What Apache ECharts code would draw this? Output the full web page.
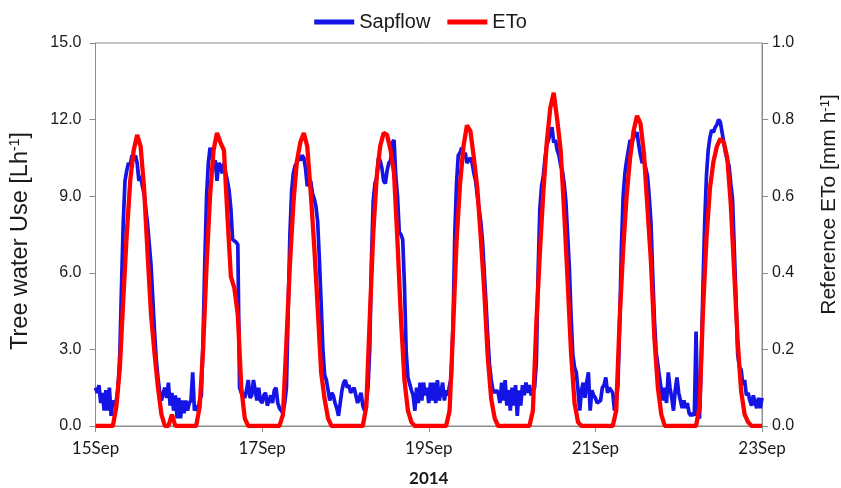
<!DOCTYPE html>
<html>
<head>
<meta charset="utf-8">
<script src="https://cdn.jsdelivr.net/npm/echarts@6/dist/echarts.min.js"></script>
<style>html,body{margin:0;padding:0;background:#fff}#c{width:841px;height:488px}</style>
</head>
<body>
<div id="c"></div>
<script>
// x tick labels (every 2 days, x in hours from 15 Sep 00:00)
const tickLabels = ['15Sep', '17Sep', '19Sep', '21Sep', '23Sep'];

// ETo [mm h-1], hourly, one array per day (h0..h23)
const eto15 = [0,0,0,0,0,0, 0.05,0.15,0.33,0.50,0.64,0.72, 0.76,0.73,0.62,0.45,0.29,0.19, 0.10,0.03,0,0,0.03,0];
const eto16 = [0,0,0,0,0,0, 0.05,0.20,0.42,0.60,0.72,0.765, 0.74,0.72,0.55,0.39,0.36,0.29, 0.10,0.02,0,0,0,0];
const eto17 = [0,0,0,0,0,0, 0.03,0.22,0.42,0.58,0.69,0.74, 0.765,0.73,0.61,0.47,0.31,0.14, 0.07,0.02,0,0,0,0];
const eto18 = [0,0,0,0,0,0, 0.05,0.28,0.50,0.65,0.73,0.765, 0.76,0.72,0.66,0.48,0.28,0.12, 0.04,0.01,0,0,0,0];
const eto19 = [0,0,0,0,0,0, 0.04,0.25,0.48,0.63,0.73,0.785, 0.77,0.70,0.62,0.49,0.35,0.18, 0.07,0.02,0,0,0,0];
const eto20 = [0,0,0,0,0,0, 0.04,0.27,0.45,0.61,0.74,0.83, 0.87,0.80,0.72,0.56,0.38,0.19, 0.06,0.01,0,0,0,0];
const eto21 = [0,0,0,0,0,0, 0.04,0.28,0.46,0.60,0.70,0.77, 0.81,0.79,0.71,0.57,0.43,0.23, 0.10,0.03,0,0,0,0];
const eto22 = [0,0,0,0,0,0, 0.05,0.30,0.49,0.62,0.69,0.73, 0.75,0.74,0.70,0.58,0.40,0.22, 0.09,0.03,0.01,0,0,0];
const etoEnd = 0;

// Sapflow [L h-1], half-hourly, one array per day (h0, h0.5, ... h23.5)
const sap15 = [1.5,1.3,1.6,0.9,1.3,0.6,1.4,0.6,1.5,0.4,1.0,0.8,
               1.0,1.5,2.8,5.5,8.0,9.6,10.0,10.3,10.2,10.6,10.4,10.6,
               10.3,9.6,9.8,9.4,9.1,8.5,7.9,7.1,6.3,5.0,3.7,2.6,
               1.9,1.3,1.0,1.3,1.5,1.1,1.7,0.8,1.3,0.6,1.2,0.3];
const sap16 = [1.1,0.3,1.0,0.5,1.0,0.6,0.9,1.0,2.1,0.6,0.8,0.6,
               1.0,1.2,3.5,6.5,9.0,10.3,10.9,10.9,10.3,10.4,9.6,10.3,
               10.2,9.9,10.3,9.9,9.6,9.2,8.5,7.3,7.3,7.2,7.1,1.5,
               1.3,1.2,1.1,1.4,1.8,1.1,1.2,1.8,1.4,1.0,1.5,1.0];
const sap17 = [0.9,1.2,1.3,0.8,1.0,1.2,0.9,1.4,1.5,0.9,0.7,0.6,
               0.5,0.9,1.5,4.5,7.5,9.2,9.9,10.2,10.3,10.5,10.4,10.6,
               10.5,10.1,9.4,9.5,9.6,9.1,8.9,8.6,8.0,6.5,4.8,3.0,
               2.0,1.8,1.4,1.0,1.3,1.2,0.9,0.7,0.4,0.9,1.4,1.7];
const sap18 = [1.8,1.5,1.6,1.3,1.4,1.5,1.2,0.9,1.1,1.3,0.8,0.6,
               0.9,1.5,3.0,6.5,8.8,9.5,9.7,10.5,10.4,10.1,9.6,9.5,
               10.0,10.3,10.4,11.1,11.2,9.8,9.0,7.6,7.5,7.3,5.5,2.9,
               1.9,1.9,1.4,1.2,0.6,1.5,0.9,1.7,1.0,1.7,1.2,1.5];
const sap19 = [0.9,1.7,1.0,1.7,0.9,1.8,1.0,1.3,1.7,1.0,1.4,1.2,
               1.6,1.9,4.0,7.5,9.5,10.6,10.7,10.9,10.6,10.7,10.3,10.4,
               10.5,10.3,9.9,9.6,9.0,8.5,8.0,7.2,6.0,4.8,3.5,2.4,
               1.8,1.4,1.3,1.4,1.3,0.9,1.7,1.0,1.8,0.8,1.4,0.6];
const sap20 = [1.5,0.8,1.6,0.4,1.4,0.8,1.6,1.2,1.7,1.3,1.6,1.2,
               1.4,1.5,2.5,6.0,8.5,9.4,9.8,10.5,11.0,11.2,11.5,11.7,
               11.1,11.2,10.8,10.6,10.2,10.0,9.5,8.8,7.5,6.2,4.3,2.8,
               2.3,2.1,1.4,0.6,1.4,1.7,1.1,1.7,2.1,0.6,1.4,1.2];
const sap21 = [1.1,0.9,0.9,1.0,1.5,1.6,1.9,1.3,1.5,1.4,1.3,0.6,
               1.0,1.6,4.0,7.0,9.0,9.9,10.4,10.8,11.2,11.1,11.3,11.4,
               11.5,11.0,10.6,10.3,10.4,10.4,9.8,9.0,8.0,6.0,4.2,2.9,
               2.4,1.9,1.4,1.0,1.5,0.9,2.1,1.5,1.1,0.6,1.4,1.9];
const sap22 = [1.3,1.0,0.7,1.0,0.7,0.9,0.5,0.4,0.5,0.4,3.7,0.4,
               0.3,2.5,5.5,8.0,9.8,10.8,11.3,11.6,11.5,11.7,11.8,12.0,
               11.9,11.5,11.1,10.7,10.4,10.2,9.5,8.9,7.0,5.0,2.8,2.3,
               2.2,1.6,1.8,1.2,1.3,1.0,0.8,1.2,0.9,0.7,1.1,0.7];
const sapEnd = 1.1;

const etoAll = [].concat(eto15, eto16, eto17, eto18, eto19, eto20, eto21, eto22, [etoEnd]);
const sapAll = [].concat(sap15, sap16, sap17, sap18, sap19, sap20, sap21, sap22, [sapEnd]);
const etoData = etoAll.map((v, i) => [i, v]);
const sapData = sapAll.map((v, i) => [i * 0.5, v]);

const gray = '#8c8c8c';
const txt = '#1a1a1a';
const font = "'Liberation Sans', Arial, sans-serif";
const font2 = "Lato, 'Liberation Sans', sans-serif";

const chart = echarts.init(document.getElementById('c'), null, {renderer: 'canvas'});
chart.setOption({
  animation: false,
  backgroundColor: '#fff',
  textStyle: {fontFamily: font},
  legend: {
    top: 7, left: 'center', icon: 'rect', itemWidth: 40, itemHeight: 5, itemGap: 17,
    textStyle: {fontSize: 20, color: txt, fontFamily: font},
    data: ['Sapflow', 'ETo']
  },
  grid: {left: 95.5, right: 79, top: 43, bottom: 62, show: true, borderColor: gray, borderWidth: 1,
         containLabel: false, outerBoundsMode: 'none'},
  xAxis: {
    type: 'value', min: 0, max: 192, interval: 48,
    axisLine: {lineStyle: {color: gray, width: 1}},
    axisTick: {length: 6, lineStyle: {color: gray}},
    splitLine: {show: false},
    axisLabel: {formatter: v => tickLabels[Math.round(v / 48)], fontSize: 17, color: txt, margin: 14, fontFamily: font2},
    name: '2014', nameLocation: 'middle', nameGap: 44,
    nameTextStyle: {fontWeight: 'bold', fontSize: 17, color: txt, fontFamily: font2}
  },
  yAxis: [
    {
      type: 'value', min: 0, max: 15, interval: 3, position: 'left',
      axisLine: {show: true, lineStyle: {color: gray}},
      axisTick: {show: true, length: 6, lineStyle: {color: gray}},
      splitLine: {show: false},
      axisLabel: {formatter: v => v.toFixed(1), fontSize: 16, color: txt, margin: 14},
      name: 'Tree water Use [Lh{s|-1}]', nameLocation: 'middle', nameRotate: 90, nameGap: 63,
      nameTextStyle: {fontSize: 23.5, color: txt, padding: [0, 13, 0, 0], rich: {s: {fontSize: 14, verticalAlign: 'top', color: txt}}}
    },
    {
      type: 'value', min: 0, max: 1, interval: 0.2, position: 'right',
      axisLine: {show: true, lineStyle: {color: gray}},
      axisTick: {show: true, length: 6, lineStyle: {color: gray}},
      splitLine: {show: false},
      axisLabel: {formatter: v => v.toFixed(1), fontSize: 16, color: txt, margin: 10},
      name: 'Reference ETo [mm h{s|-1}]', nameLocation: 'middle', nameRotate: 90, nameGap: 57,
      nameTextStyle: {fontSize: 21, color: txt, padding: [0, 0, 0, 60], rich: {s: {fontSize: 13, verticalAlign: 'top', color: txt}}}
    }
  ],
  series: [
    {name: 'Sapflow', type: 'line', yAxisIndex: 0, data: sapData, showSymbol: false, symbol: 'none',
     lineStyle: {color: '#1414e6', width: 3.7}, itemStyle: {color: '#1414e6'}},
    {name: 'ETo', type: 'line', yAxisIndex: 1, data: etoData, showSymbol: false, symbol: 'none',
     lineStyle: {color: '#ff0000', width: 4.3}, itemStyle: {color: '#ff0000'}}
  ]
});
</script>
</body>
</html>
